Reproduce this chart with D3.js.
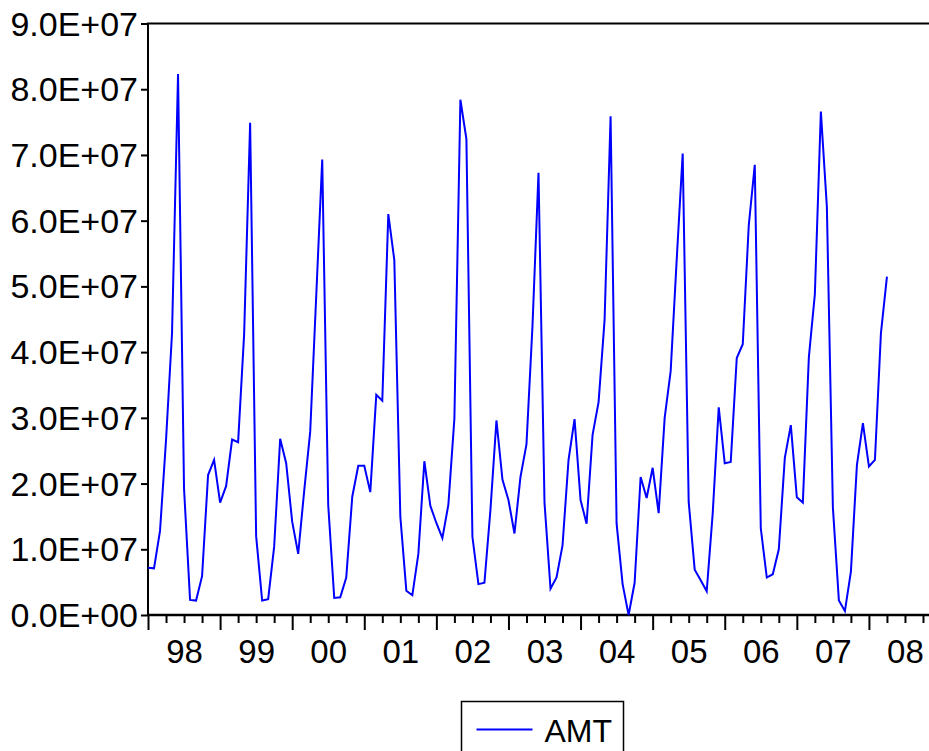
<!DOCTYPE html>
<html lang="en">
<head>
  <meta charset="UTF-8">
  <title>AMT</title>
  <script type="text/javascript" src="https://d3js.org/d3.v7.min.js"></script>
  <style>
    body { margin: 0; background: #fff; }
    svg text { font-family: "Liberation Sans", Arial, sans-serif; fill: #000; }
  </style>
</head>
<body>
  <svg width="929" height="751"></svg>
<script type="text/javascript">
// monthly AMT, in millions, starting 1998M01
var amt = [
  7.2, 7.1, 12.8, 26.6, 42.9, 82.3, 19.2, 2.3, 2.2, 5.9, 21.3, 23.6,
  17.1, 19.6, 26.7, 26.3, 42.7, 74.9, 12.0, 2.2, 2.4, 10.4, 26.8, 23.1,
  14.2, 9.3, 18.9, 27.9, 48.5, 69.3, 16.7, 2.6, 2.7, 5.7, 18.0, 22.7,
  22.7, 18.7, 33.5, 32.6, 61.0, 54.0, 15.0, 3.7, 3.0, 9.3, 23.4, 16.6,
  14.0, 11.7, 16.8, 29.9, 78.4, 72.4, 11.9, 4.7, 4.9, 16.0, 29.6, 20.6,
  17.5, 12.4, 21.0, 26.0, 44.0, 67.3, 17.1, 4.0, 5.7, 10.6, 23.6, 29.8,
  17.5, 13.9, 27.4, 32.4, 44.9, 75.9, 13.9, 4.7, 0.0, 4.9, 21.0, 17.8,
  22.4, 15.5, 30.0, 37.1, 54.0, 70.2, 17.2, 6.9, 5.3, 3.6, 15.5, 31.6,
  23.1, 23.3, 39.1, 41.2, 59.3, 68.5, 13.2, 5.7, 6.2, 10.0, 23.9, 28.9,
  17.9, 17.1, 39.2, 48.8, 76.6, 62.1, 16.4, 2.2, 0.6, 6.6, 22.8, 29.2,
  22.6, 23.6, 42.9, 51.5
];
var years = ["98", "99", "00", "01", "02", "03", "04", "05", "06", "07", "08"];
var yTicks = [0, 10, 20, 30, 40, 50, 60, 70, 80, 90];
var seriesName = "AMT";

var svg = d3.select("svg"),
    plotLeft = 148, plotRight = 929, plotTop = 23.5, plotBottom = 615;

// month index on x, axis runs through 2008M11
var x = d3.scaleLinear().domain([0, 130]).range([plotLeft, plotRight]);
var y = d3.scaleLinear().domain([0, 90]).range([plotBottom, plotTop]);

function sci(d) {
  if (d === 0) return "0.0E+00";
  var e = Math.floor(Math.log10(d * 1e6));
  var m = d * 1e6 / Math.pow(10, e);
  return m.toFixed(1) + "E+" + (e < 10 ? "0" + e : e);
}

// frame
svg.append("rect")
   .attr("x", plotLeft).attr("y", plotTop)
   .attr("width", 900).attr("height", plotBottom - plotTop)
   .attr("fill", "none").attr("stroke", "#000").attr("stroke-width", 2);

// y axis
var yAxis = svg.append("g")
   .attr("transform", "translate(" + plotLeft + ",0)")
   .call(d3.axisLeft(y).tickValues(yTicks).tickSize(7).tickPadding(3).tickFormat(sci));
yAxis.select(".domain").remove();
yAxis.selectAll("line").attr("stroke-width", 2);
yAxis.selectAll("text").style("font-size", "34px").attr("dy", "0.34em");

// x axis: year ticks, quarter ticks, centred year labels
var major = d3.range(0, 121, 12);
var minor = d3.range(0, 130, 3).filter(function(d) { return d % 12 !== 0; });

var gMaj = svg.append("g").attr("transform", "translate(0," + plotBottom + ")")
   .call(d3.axisBottom(x).tickValues(major).tickSize(15).tickFormat(""));
var gMin = svg.append("g").attr("transform", "translate(0," + plotBottom + ")")
   .call(d3.axisBottom(x).tickValues(minor).tickSize(8).tickFormat(""));
var gLab = svg.append("g").attr("transform", "translate(0," + plotBottom + ")")
   .call(d3.axisBottom(x).tickValues(major.map(function(d) { return d + 6; }))
     .tickSize(0).tickPadding(25).tickFormat(function(d, i) { return years[i]; }));
[gMaj, gMin, gLab].forEach(function(g) { g.select(".domain").remove(); });
gMaj.selectAll("line").attr("stroke-width", 2);
gMin.selectAll("line").attr("stroke-width", 2);
gLab.selectAll("text").style("font-size", "33px");

svg.append("line")
   .attr("x1", plotLeft).attr("x2", plotRight).attr("y1", plotBottom).attr("y2", plotBottom)
   .attr("stroke", "#000").attr("stroke-width", 2.5);

// series
var line = d3.line()
   .x(function(d, i) { return x(i); })
   .y(function(d) { return y(d); });

svg.append("path")
   .datum(amt)
   .attr("d", line)
   .attr("fill", "none")
   .attr("stroke", "#0000ff")
   .attr("stroke-width", 2)
   .attr("stroke-linejoin", "miter");

// legend
var lg = svg.append("g").attr("transform", "translate(461.5,701.5)");
lg.append("rect").attr("width", 162).attr("height", 70)
  .attr("fill", "#fff").attr("stroke", "#000").attr("stroke-width", 1.5);
lg.append("line").attr("x1", 15).attr("x2", 71).attr("y1", 28).attr("y2", 28)
  .attr("stroke", "#0000ff").attr("stroke-width", 2);
lg.append("text").attr("x", 83).attr("y", 40).style("font-size", "32px").text(seriesName);
</script>
</body>
</html>
